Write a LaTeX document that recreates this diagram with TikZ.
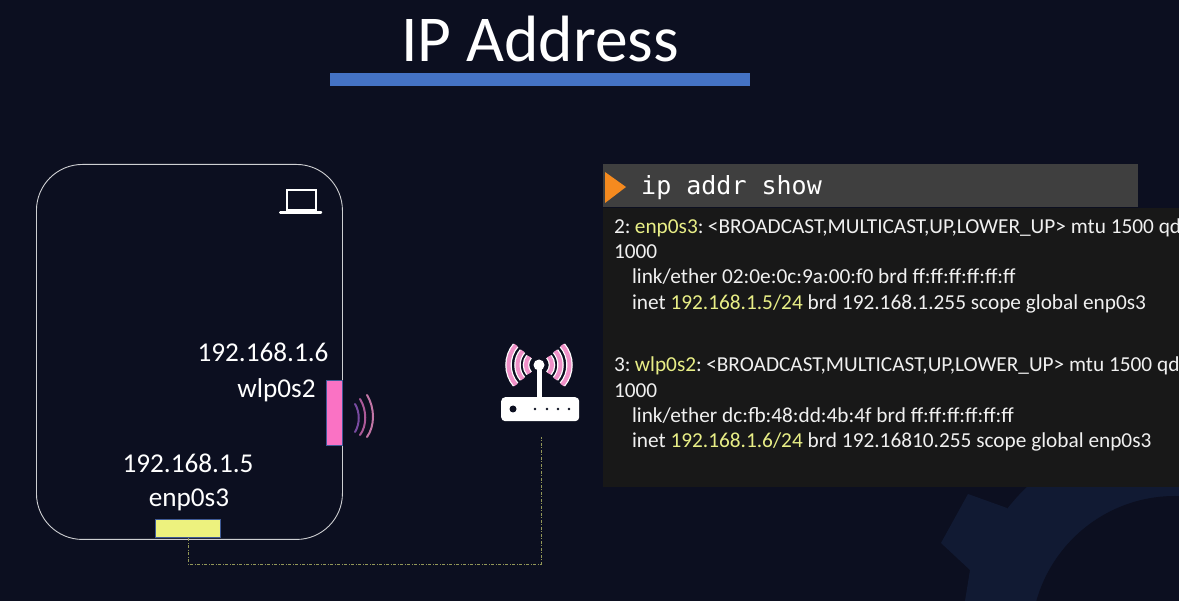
\documentclass[tikz,border=0pt]{standalone}
\usepackage{fontspec}
\setmainfont{Carlito}
\setmonofont{DejaVu Sans Mono}
\definecolor{bgc}{HTML}{0C0F20}
\definecolor{gearc}{HTML}{111A33}
\definecolor{termc}{HTML}{181818}
\definecolor{headc}{HTML}{3F3F3F}
\definecolor{barc}{HTML}{4472C4}
\definecolor{orangec}{HTML}{F58A1F}
\definecolor{pinkc}{HTML}{FA72C4}
\definecolor{yellowc}{HTML}{EDF27E}
\definecolor{hlc}{HTML}{E8EE86}
\definecolor{edgec}{HTML}{3F5A96}
\definecolor{arcpink}{HTML}{F090C8}
\tikzset{
  x=1pt,y=-1pt,
  line/.style={anchor=base west,inner sep=0pt,outer sep=0pt,text=white!94!black,font=\fontsize{21.3}{24}\selectfont},
  lab/.style={anchor=base,inner sep=0pt,text=white,font=\fontsize{27.2}{30}\selectfont},
  wave/.style={line width=2pt,line cap=round},
  routerarc/.style={line width=6.5pt,draw=white},
  routerarcin/.style={line width=4pt,draw=arcpink},
}
\newcommand{\hl}[1]{\textcolor{hlc}{#1}}
\begin{document}
\begin{tikzpicture}
\useasboundingbox (0,0) rectangle (1179,601);
\fill[bgc] (0,0) rectangle (1179,601);
% background gear
\begin{scope}
  \clip (0,0) rectangle (1179,601);
  \fill[gearc] (1175,640) circle[radius=213];
  \fill[gearc] (968,494) -- (1007,508) -- (1030,600) -- (965,601) -- (970,570) -- (941,543) -- cycle;
  \fill[bgc] (1175,640) circle[radius=144];
\end{scope}
% title
\node[anchor=base,inner sep=0pt,text=white,font=\fontsize{65.5}{70}\selectfont] (title) at (540,62) {IP Address};
\node[draw=none,fill=barc,minimum width=420pt,minimum height=13pt,inner sep=0pt,anchor=north west] (bar) at (330,73) {};
% laptop
\node[draw=white!80!bgc,line width=0.9pt,rounded corners=46pt,minimum width=306pt,minimum height=375pt,inner sep=0pt,anchor=north west] (laptop) at (36,164) {};
\node[draw=white,line width=2pt,minimum width=29pt,minimum height=20pt,inner sep=0pt,anchor=north west] (screen) at (286,189) {};
\node[fill=white,rounded corners=1pt,minimum width=43pt,minimum height=2.6pt,inner sep=0pt,anchor=north west] (kbd) at (279,211) {};
% interfaces
\node[fill=pinkc,draw=edgec,line width=1pt,minimum width=16pt,minimum height=65pt,inner sep=0pt,anchor=north west] (wlp) at (326,380) {};
\node[fill=yellowc,draw=edgec,line width=1.2pt,minimum width=65pt,minimum height=18pt,inner sep=0pt,anchor=north west] (enp) at (155,519) {};
\node[lab] (ipw) at (263,362) {192.168.1.6};
\node[lab] (nw) at (276.5,398) {wlp0s2};
\node[lab] (ipe) at (188,473) {192.168.1.5};
\node[lab] (ne) at (189,507) {enp0s3};
% waves
\draw[wave,draw=blue!30!arcpink!70!bgc] (355,404) .. controls (360,412) and (360,424) .. (355,432);
\draw[wave,draw=violet!25!arcpink!80!bgc] (360,399) .. controls (367,410) and (367,426) .. (360,435);
\draw[wave,draw=arcpink!80!bgc] (367,395) .. controls (375,408) and (375,426) .. (367,437);
% router
\node[fill=white,rounded corners=4pt,minimum width=78pt,minimum height=24pt,inner sep=0pt,anchor=north west] (router) at (501,397) {};
\foreach \r in {13,21.5,30.5}{
  \draw[routerarc] (539,365) ++(140:\r) arc[start angle=140,end angle=220,radius=\r];
  \draw[routerarc] (539,365) ++(40:\r) arc[start angle=40,end angle=-40,radius=\r];
  \draw[routerarcin] (539,365) ++(139:\r) arc[start angle=139,end angle=221,radius=\r];
  \draw[routerarcin] (539,365) ++(41:\r) arc[start angle=41,end angle=-41,radius=\r];
}
\node[fill=white,circle,minimum size=11pt,inner sep=0pt] (rball) at (539,365) {};
\draw[white,line width=5pt] (rball.center) -- (router.north -| rball.center);
\fill[bgc] (513,409) circle[radius=3.5];
\foreach \px in {535,547,558,569} \fill[bgc] (\px,409) circle[radius=1.4];
% connector
\coordinate (rlow) at (541,437);
\coordinate (rfoot) at (541,564);
\draw[yellowc!60!bgc,line width=0.8pt,dash pattern=on 3pt off 1.5pt on 1pt off 1.5pt] (enp.south) -- (enp.south |- rfoot) -- (rfoot) -- (rlow);
% terminal
\node[fill=headc,minimum width=535pt,minimum height=43pt,inner sep=0pt,anchor=north west] (head) at (603,164) {};
\fill[orangec] (605,172) -- (626,187) -- (605,203) -- cycle;
\node[anchor=base west,inner sep=0pt,text=white,font=\ttfamily\fontsize{25}{28}\selectfont] (cmd) at (641,195) {ip addr show};
\node[fill=termc,minimum width=576pt,minimum height=279pt,inner sep=0pt,anchor=north west] (term) at (603,208) {};
\node[line] (l1) at (614,234) {2:\hspace{-2pt} \hl{enp0s3}:\hspace{-2pt} <BROADCAST,MULTICAST,UP,LOWER\_UP> mtu 1500 qd};
\node[line] (l2) at (614,259) {1000};
\node[line] (l3) at (632,284) {link/ether 02:0e:0c:9a:00:f0 brd ff:ff:ff:ff:ff:ff};
\node[line] (l4) at (632,310) {inet \hl{192.168.1.5/24} brd 192.168.1.255 scope global enp0s3};
\node[line] (l5) at (614,372) {3:\hspace{-2pt} \hl{wlp0s2}:\hspace{-2pt} <BROADCAST,MULTICAST,UP,LOWER\_UP> mtu 1500 qd};
\node[line] (l6) at (614,398) {1000};
\node[line] (l7) at (632,423) {link/ether dc:fb:48:dd:4b:4f brd ff:ff:ff:ff:ff:ff};
\node[line] (l8) at (632,448) {inet \hl{192.168.1.6/24} brd 192.16810.255 scope global enp0s3};
\end{tikzpicture}
\end{document}
